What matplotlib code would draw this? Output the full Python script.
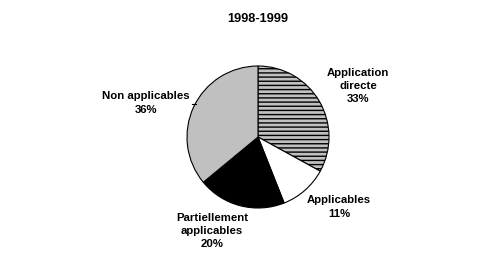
import matplotlib.pyplot as plt

plt.rcParams['font.family'] = ['Liberation Sans', 'DejaVu Sans']
plt.rcParams['hatch.linewidth'] = 1.0

# Data
title = "1998-1999"
labels = ["Application\ndirecte\n33%", "Applicables\n11%",
          "Partiellement\napplicables\n20%", "Non applicables\n36%"]
values = [33, 11, 20, 36]
colors = ['#c0c0c0', 'white', 'black', '#c0c0c0']
hatches = ['----', '', '', '']

W, H = 486, 263
fig = plt.figure(figsize=(W / 100, H / 100), dpi=100)
ax = fig.add_axes([0, 0, 1, 1])

wedges, _ = ax.pie(values, colors=colors, startangle=90, counterclock=False,
                   center=(258, H - 137), radius=71, frame=True,
                   wedgeprops=dict(edgecolor='black', linewidth=0.8))
for w, h in zip(wedges, hatches):
    w.set_hatch(h)

ax.set_xlim(0, W)
ax.set_ylim(0, H)
ax.set_aspect('equal')
ax.axis('off')

ax.text(258, H - 19, title, ha='center', va='center', fontsize=9.2, fontweight='bold')

label_pos = [(358, H - 86), (339, H - 207), (212, H - 231), (146, H - 103)]
for (x, y), lab in zip(label_pos, labels):
    ax.text(x, y, lab, ha='center', va='center', fontsize=8.2,
            fontweight='bold', linespacing=1.4)

# short leader line for "Non applicables"
ax.plot([192, 195.5], [H - 104, H - 104], color='black', linewidth=0.8)

fig.savefig('out.png', dpi=100)
